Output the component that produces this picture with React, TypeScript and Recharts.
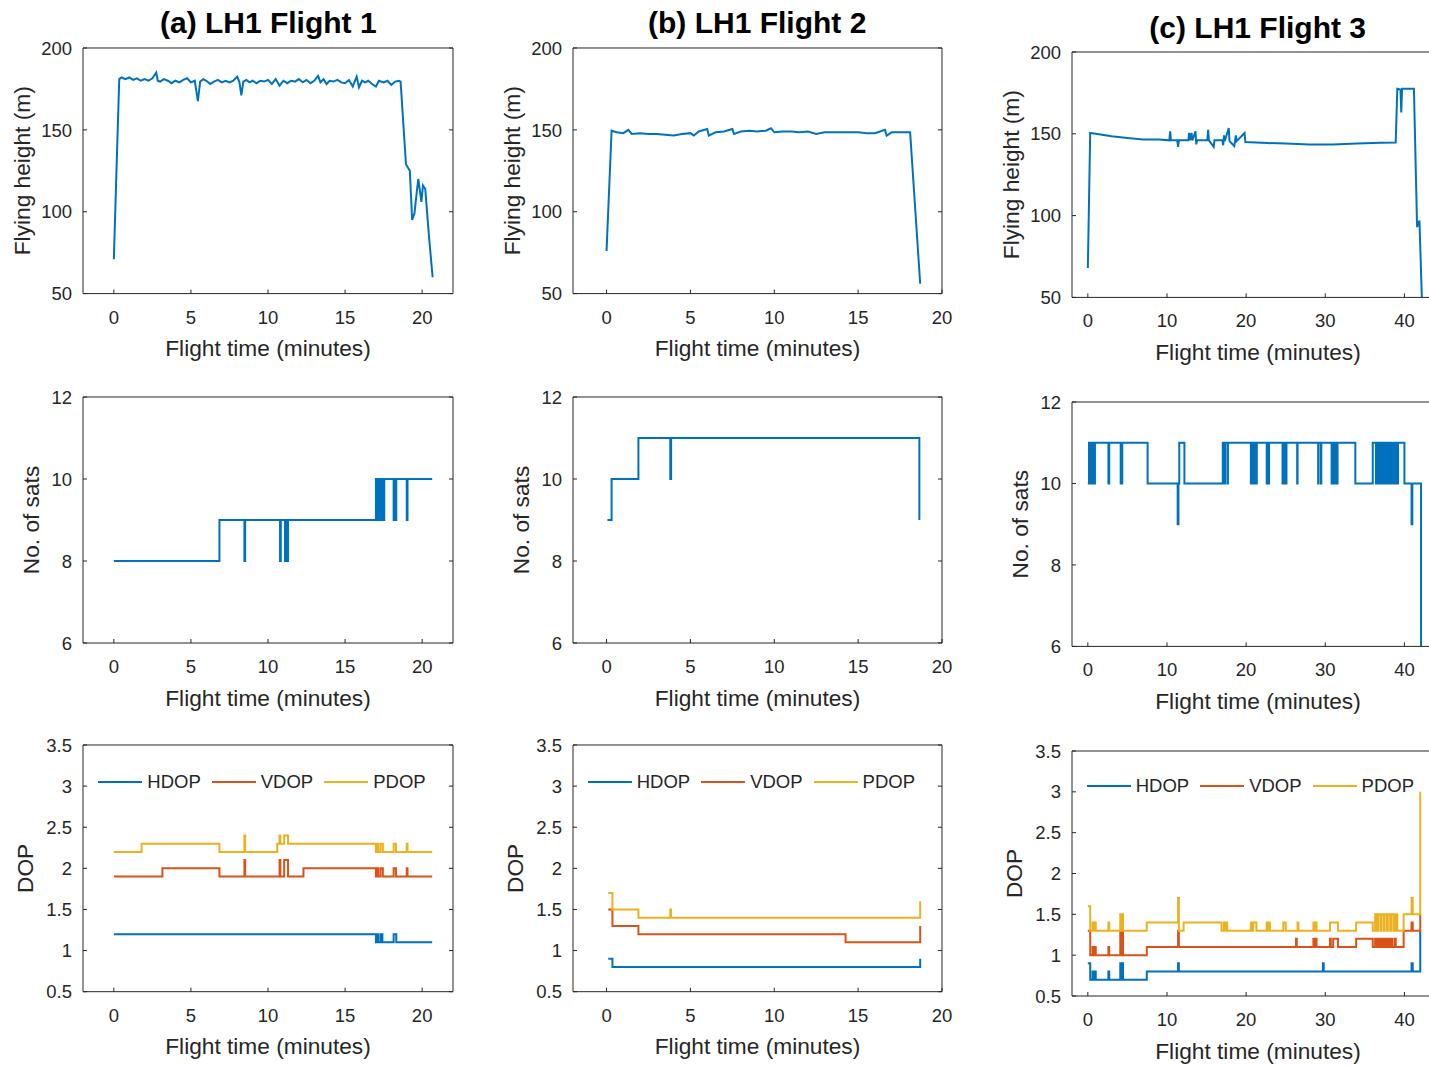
import React from 'react';
import { LineChart, Line, XAxis, YAxis, Legend, Label } from 'recharts';

const BLUE = '#0072BD';
const ORANGE = '#D95319';
const YELLOW = '#EDB120';
const INK = '#262626';
const FONT = '"Liberation Sans", Arial, Helvetica, sans-serif';

type Pt = [number, number];

// ---------- text ----------
const titles = ['(a) LH1 Flight 1', '(b) LH1 Flight 2', '(c) LH1 Flight 3'];
const xLabelText = 'Flight time (minutes)';
const heightLabel = 'Flying height (m)';
const satsLabel = 'No. of sats';
const dopLabel = 'DOP';
const dopNames = ['HDOP', 'VDOP', 'PDOP'];

// ---------- ticks ----------
const xTicks20 = [0, 5, 10, 15, 20];
const xTicks40 = [0, 10, 20, 30, 40];
const heightTicks = [50, 100, 150, 200];
const satsTicks = [6, 8, 10, 12];
const dopTicks = [0.5, 1, 1.5, 2, 2.5, 3, 3.5];

// ---------- Flight 1 ----------
const f1Height: Pt[] = [
  [0, 71], [0.35, 181], [0.5, 182], [0.75, 181], [1.0, 182], [1.25, 180.5], [1.5, 181.5], [1.75, 180],
  [2.0, 181], [2.25, 180], [2.5, 181.5], [2.75, 185], [2.85, 180], [3.0, 179.5], [3.25, 181], [3.5, 180],
  [3.75, 178.5], [4.0, 180], [4.25, 179], [4.5, 180.5], [4.75, 181.5], [5.0, 179], [5.25, 180], [5.45, 167.5],
  [5.6, 179.5], [5.8, 181], [6.0, 180], [6.25, 178], [6.5, 179.5], [6.75, 180.5], [7.0, 179], [7.25, 180],
  [7.5, 179], [7.75, 180], [8.0, 182.5], [8.15, 179], [8.27, 171], [8.4, 179.5], [8.6, 180.5], [8.8, 179],
  [9.0, 180], [9.25, 178.5], [9.5, 180], [9.75, 179.5], [10.0, 180.5], [10.25, 178], [10.5, 181], [10.75, 177],
  [11.0, 180], [11.25, 178.5], [11.5, 180], [11.75, 179.5], [12.0, 181], [12.25, 179], [12.5, 180.5], [12.75, 178.5],
  [13.0, 180], [13.25, 183], [13.4, 179], [13.6, 181], [13.8, 178], [14.0, 180], [14.25, 179.5], [14.5, 180.5],
  [14.75, 179], [15.0, 178.5], [15.25, 180.5], [15.5, 176.5], [15.75, 182.5], [15.9, 176], [16.1, 180], [16.3, 179],
  [16.5, 180], [16.75, 178], [17.0, 176.5], [17.2, 180], [17.5, 179], [17.75, 180], [18.0, 177.5], [18.25, 179.5],
  [18.5, 180], [18.6, 179.5], [18.95, 129], [19.2, 125], [19.35, 95], [19.5, 99], [19.65, 112], [19.75, 120],
  [19.95, 106], [20.05, 116], [20.2, 114], [20.45, 84], [20.68, 60],
];
const f1Sats: Pt[] = [
  [0, 8], [6.85, 9], [8.47, 8], [8.52, 9], [10.78, 8], [10.83, 9], [11.1, 8], [11.15, 9], [11.25, 8], [11.3, 9],
  [17.0, 10], [17.05, 9], [17.1, 10], [17.22, 9], [17.26, 10], [17.36, 9], [17.4, 10], [17.5, 9], [17.54, 10],
  [18.15, 9], [18.2, 10], [18.28, 9], [18.32, 10], [19.0, 9], [19.05, 10], [20.65, 10],
];
const f1Hdop: Pt[] = [
  [0, 1.2], [17.0, 1.1], [17.1, 1.2], [17.15, 1.1], [17.3, 1.2], [17.42, 1.1], [18.15, 1.2], [18.32, 1.1], [20.65, 1.1],
];
const f1Vdop: Pt[] = [
  [0, 1.9], [3.15, 2.0], [6.85, 1.9], [8.47, 2.1], [8.52, 1.9], [10.75, 2.1], [10.8, 1.9], [11.05, 2.1], [11.3, 1.9],
  [12.3, 2.0], [17.0, 1.9], [17.1, 2.0], [17.15, 1.9], [17.3, 2.0], [17.45, 1.9], [18.15, 2.0], [18.3, 1.9],
  [19.0, 2.0], [19.05, 1.9], [20.65, 1.9],
];
const f1Pdop: Pt[] = [
  [0, 2.2], [1.8, 2.3], [6.85, 2.2], [8.47, 2.4], [8.52, 2.2], [10.6, 2.3], [10.75, 2.4], [10.8, 2.3], [11.05, 2.4],
  [11.3, 2.3], [17.0, 2.2], [17.1, 2.3], [17.15, 2.2], [17.3, 2.3], [17.45, 2.2], [18.15, 2.3], [18.3, 2.2],
  [19.0, 2.3], [19.05, 2.2], [20.65, 2.2],
];

// ---------- Flight 2 ----------
const f2Height: Pt[] = [
  [0, 76], [0.3, 149.5], [0.6, 148.5], [1.0, 148], [1.3, 150], [1.5, 147.5], [2.0, 148], [2.5, 147.5], [3.0, 147.5],
  [3.5, 147], [4.0, 146.5], [4.5, 147.5], [5.0, 148], [5.2, 146.5], [5.5, 149], [6.0, 150.5], [6.1, 146.5],
  [6.5, 148.5], [7.0, 149], [7.5, 150.5], [7.6, 147.5], [8.0, 149], [8.5, 149.5], [9.0, 149], [9.5, 149.5],
  [9.8, 151], [10.0, 148.5], [10.5, 149], [11.0, 149], [11.5, 148.5], [12.0, 149], [12.5, 147.5], [13.0, 148.5],
  [13.5, 148.5], [14.0, 148.5], [15.0, 148.5], [15.5, 148], [16.0, 148], [16.6, 150], [16.7, 146.5], [17.0, 148.5],
  [17.5, 148.5], [18.1, 148.5], [18.7, 56],
];
const f2Sats: Pt[] = [[0.05, 9], [0.3, 10], [1.9, 11], [3.8, 10], [3.85, 11], [18.65, 9]];
const f2Hdop: Pt[] = [[0.1, 0.9], [0.35, 0.8], [18.7, 0.9]];
const f2Vdop: Pt[] = [[0.1, 1.5], [0.35, 1.3], [1.9, 1.2], [14.25, 1.1], [18.7, 1.3]];
const f2Pdop: Pt[] = [[0.1, 1.7], [0.35, 1.5], [1.9, 1.4], [3.8, 1.5], [3.85, 1.4], [18.7, 1.6]];

// ---------- Flight 3 ----------
const f3Height: Pt[] = [
  [0, 68], [0.3, 150.5], [1, 150], [3, 148.5], [5, 147.5], [7, 146.5], [9, 146.5], [10.3, 146], [10.4, 151.5],
  [10.5, 146], [11.3, 146], [11.4, 142], [11.5, 146], [12.7, 146], [12.8, 150.5], [12.9, 146], [13.1, 150.5],
  [13.2, 146], [13.6, 151.5], [13.7, 143.5], [13.8, 146], [15.1, 146], [15.2, 152.5], [15.3, 146], [15.9, 142],
  [16.0, 146], [17.0, 146], [17.1, 143], [17.2, 149], [17.3, 145.5], [17.8, 153.5], [17.9, 145.5], [18.5, 142.5],
  [18.6, 145.5], [18.7, 149], [18.8, 145.5], [19.8, 150.5], [19.9, 145], [22, 144.5], [25, 144], [28, 143.5],
  [31, 143.5], [34, 144], [37, 144.5], [38.9, 144.7], [39.1, 177.5], [39.5, 177], [39.6, 163], [39.7, 177.5],
  [41.2, 177.5], [41.6, 93], [41.9, 97], [42.2, 50],
];
const f3Sats: Pt[] = [
  [0, 10], [0.15, 11], [0.2, 10], [0.35, 11], [0.4, 10], [0.55, 11], [0.6, 10], [0.75, 11], [0.8, 10], [0.9, 11],
  [2.6, 10], [2.7, 11], [4.15, 10], [4.35, 11], [7.55, 10], [11.35, 9], [11.45, 10], [11.55, 11], [12.2, 10],
  [17.05, 11], [17.3, 10], [17.35, 11], [17.65, 10], [17.7, 11], [20.6, 10], [20.65, 11], [20.75, 10], [20.8, 11],
  [20.9, 10], [20.95, 11], [21.1, 10], [21.15, 11], [21.3, 10], [21.35, 11], [22.6, 10], [22.65, 11], [22.85, 10],
  [22.9, 11], [24.6, 10], [24.65, 11], [24.9, 10], [25.1, 11], [26.45, 10], [26.5, 11], [29.1, 10], [29.15, 11],
  [29.45, 10], [29.5, 11], [30.8, 10], [30.85, 11], [31.0, 10], [31.05, 11], [31.2, 10], [31.3, 11], [31.5, 10],
  [31.55, 11], [33.8, 10], [36.0, 11], [36.4, 10], [36.45, 11], [36.6, 10], [36.7, 11], [36.9, 10], [37.0, 11],
  [37.1, 10], [37.2, 11], [37.3, 10], [37.4, 11], [37.5, 10], [37.6, 11], [37.7, 10], [37.8, 11], [37.9, 10],
  [38.0, 11], [38.1, 10], [38.2, 11], [38.3, 10], [38.4, 11], [38.5, 10], [38.6, 11], [38.8, 10], [38.9, 11],
  [39.1, 10], [39.2, 11], [40.0, 10], [40.9, 9], [41.0, 10], [42.1, 6],
];
const f3Hdop: Pt[] = [
  [0, 0.9], [0.3, 0.7], [0.6, 0.8], [0.7, 0.7], [0.85, 0.8], [1.0, 0.7], [2.6, 0.8], [2.7, 0.7], [4.1, 0.9],
  [4.2, 0.7], [4.35, 0.9], [4.45, 0.7], [7.45, 0.8], [11.4, 0.9], [11.5, 0.8], [29.7, 0.9], [29.8, 0.8],
  [40.9, 0.9], [41.05, 0.8], [42.0, 1.3],
];
const f3Vdop: Pt[] = [
  [0, 1.3], [0.3, 1.0], [0.6, 1.1], [0.7, 1.0], [0.85, 1.1], [1.0, 1.0], [2.6, 1.1], [2.7, 1.0], [4.1, 1.3],
  [4.2, 1.0], [4.35, 1.3], [4.45, 1.0], [7.45, 1.1], [11.4, 1.3], [11.5, 1.1], [26.3, 1.2], [26.4, 1.1],
  [28.5, 1.2], [28.6, 1.1], [28.8, 1.2], [28.9, 1.1], [30.6, 1.2], [30.7, 1.1], [31.0, 1.2], [31.6, 1.1],
  [33.9, 1.2], [36.0, 1.1], [36.3, 1.2], [36.45, 1.1], [36.6, 1.2], [36.8, 1.1], [37.0, 1.2], [37.15, 1.1],
  [37.3, 1.2], [37.5, 1.1], [37.7, 1.2], [37.85, 1.1], [38.0, 1.2], [38.15, 1.1], [38.4, 1.2], [38.5, 1.1],
  [38.8, 1.2], [38.9, 1.1], [39.9, 1.3], [40.9, 1.4], [41.05, 1.3], [42.0, 1.5],
];
const f3Pdop: Pt[] = [
  [0, 1.6], [0.3, 1.3], [0.6, 1.4], [0.7, 1.3], [0.85, 1.4], [1.0, 1.3], [2.6, 1.4], [2.7, 1.3], [4.1, 1.5],
  [4.2, 1.3], [4.35, 1.5], [4.45, 1.3], [7.45, 1.4], [11.4, 1.7], [11.5, 1.3], [12.1, 1.4], [16.9, 1.3],
  [17.2, 1.4], [17.3, 1.3], [17.5, 1.4], [17.6, 1.3], [20.6, 1.4], [20.7, 1.3], [20.9, 1.4], [21.3, 1.3],
  [22.6, 1.4], [22.7, 1.3], [22.9, 1.4], [23.0, 1.3], [24.7, 1.4], [25.0, 1.3], [26.5, 1.4], [26.6, 1.3],
  [28.5, 1.4], [28.6, 1.3], [28.8, 1.4], [28.9, 1.3], [30.6, 1.4], [31.6, 1.3], [33.9, 1.4], [36.0, 1.3],
  [36.3, 1.5], [36.4, 1.3], [36.5, 1.5], [36.6, 1.3], [36.7, 1.5], [37.0, 1.3], [37.1, 1.5], [37.4, 1.3],
  [37.5, 1.5], [37.8, 1.3], [37.9, 1.5], [38.2, 1.3], [38.3, 1.5], [38.6, 1.3], [38.7, 1.5], [38.8, 1.3],
  [39.0, 1.5], [39.1, 1.3], [39.9, 1.5], [40.9, 1.7], [41.05, 1.5], [42.0, 3.0],
];

const rows = (p: Pt[]) => p.map(([t, v]) => ({ t, v }));

// ---------- rendering helpers ----------
const ML = 100, MT = 12, MR = 24, MB = 80;
const TICK_FS = 18.5;
const LABEL_FS = 22.7;

const BottomTick = (p: any) => (
  <g>
    <line x1={p.x} y1={p.y} x2={p.x} y2={p.y - 4} stroke={INK} strokeWidth={1} />
    <text x={p.x} y={p.y + 30} textAnchor="middle" fill={INK} fontSize={TICK_FS} fontFamily={FONT}>
      {p.payload.value}
    </text>
  </g>
);
const TopTick = (p: any) => <line x1={p.x} y1={p.y} x2={p.x} y2={p.y + 4} stroke={INK} strokeWidth={1} />;
const LeftTick = (p: any) => (
  <g>
    <line x1={p.x} y1={p.y} x2={p.x + 4} y2={p.y} stroke={INK} strokeWidth={1} />
    <text x={p.x - 11} y={p.y} dy="0.36em" textAnchor="end" fill={INK} fontSize={TICK_FS} fontFamily={FONT}>
      {p.payload.value}
    </text>
  </g>
);
const RightTick = (p: any) => <line x1={p.x} y1={p.y} x2={p.x - 4} y2={p.y} stroke={INK} strokeWidth={1} />;

interface Series { name: string; data: Pt[]; color: string; step: boolean }
interface PanelProps {
  left: number; top: number; w: number; h: number;
  xDomain: [number, number]; xTicks: number[];
  yDomain: [number, number]; yTicks: number[];
  yLabel: string; yLabelOff: number;
  series: Series[]; legend?: boolean; legendDy?: number;
}

const Panel = (pp: PanelProps) => {
  const { left, top, w, h, xDomain, xTicks, yDomain, yTicks, yLabel, yLabelOff, series, legend, legendDy = 36 } = pp;
  const width = ML + w + MR;
  const height = MT + h + MB;
  const renderLegend = () => (
    <div style={{ display: 'flex', alignItems: 'center', fontFamily: FONT, fontSize: TICK_FS, color: INK, whiteSpace: 'nowrap', lineHeight: '21px' }}>
      {series.map((s, i) => (
        <div key={i} style={{ display: 'flex', alignItems: 'center', marginRight: 11 }}>
          <svg width={44} height={4} style={{ display: 'block' }}>
            <line x1={0} y1={2} x2={44} y2={2} stroke={s.color} strokeWidth={2} />
          </svg>
          <span style={{ marginLeft: 5 }}>{s.name}</span>
        </div>
      ))}
    </div>
  );
  return (
    <div style={{ position: 'absolute', left: left - ML, top: top - MT, width, height }}>
      <LineChart width={width} height={height} margin={{ left: ML - 1, top: MT - 1, right: MR - 1, bottom: MB - 1 }}>
        <XAxis type="number" dataKey="t" domain={xDomain} ticks={xTicks} allowDataOverflow interval={0}
          height={1} tickSize={0} tickMargin={0} tickLine={false} axisLine={{ stroke: INK, strokeWidth: 1 }}
          tick={(p: any) => <BottomTick {...p} />}>
          <Label content={() => (
            <text x={ML + w / 2} y={MT + h + 62.5} textAnchor="middle" fill={INK} fontSize={LABEL_FS} fontFamily={FONT}>
              {xLabelText}
            </text>
          )} />
        </XAxis>
        <XAxis xAxisId="top" orientation="top" type="number" domain={xDomain} ticks={xTicks} allowDataOverflow interval={0}
          height={1} tickSize={0} tickMargin={0} tickLine={false} axisLine={{ stroke: INK, strokeWidth: 1 }}
          tick={(p: any) => <TopTick {...p} />} />
        <YAxis type="number" domain={yDomain} ticks={yTicks} allowDataOverflow interval={0}
          width={1} tickSize={0} tickMargin={0} tickLine={false} axisLine={{ stroke: INK, strokeWidth: 1 }}
          tick={(p: any) => <LeftTick {...p} />}>
          <Label content={() => {
            const cx = ML - yLabelOff;
            const cy = MT + h / 2;
            return (
              <text x={cx} y={cy} dy="0.36em" transform={`rotate(-90, ${cx}, ${cy})`} textAnchor="middle"
                fill={INK} fontSize={LABEL_FS} fontFamily={FONT}>
                {yLabel}
              </text>
            );
          }} />
        </YAxis>
        <YAxis yAxisId="right" orientation="right" type="number" domain={yDomain} ticks={yTicks} allowDataOverflow interval={0}
          width={1} tickSize={0} tickMargin={0} tickLine={false} axisLine={{ stroke: INK, strokeWidth: 1 }}
          tick={(p: any) => <RightTick {...p} />} />
        {series.map((s) => (
          <Line key={s.name} name={s.name} data={rows(s.data)} dataKey="v" type={s.step ? 'stepAfter' : 'linear'}
            stroke={s.color} strokeWidth={2} dot={false} activeDot={false} isAnimationActive={false} />
        ))}
        {legend && (
          <Legend layout="horizontal" verticalAlign="middle" align="center" content={renderLegend}
            wrapperStyle={{ position: 'absolute', left: ML + 15, top: MT + legendDy - 10.5, width: 'auto', height: 'auto' }} />
        )}
      </LineChart>
    </div>
  );
};

const cols = [
  { left: 83.3, w: 370, xDomain: [-2, 22] as [number, number], xTicks: xTicks20, tops: [47.7, 396.5, 745], hs: [245.6, 246, 246.7], titleY: 33.3 },
  { left: 572.7, w: 369, xDomain: [-2, 20] as [number, number], xTicks: xTicks20, tops: [47.7, 396.5, 745], hs: [245.6, 246, 246.7], titleY: 33.3 },
  { left: 1071.7, w: 372, xDomain: [-2, 45] as [number, number], xTicks: xTicks40, tops: [52.3, 402.3, 750.7], hs: [245.4, 244.4, 245], titleY: 37.5 },
];

const flights = [
  { height: f1Height, sats: f1Sats, dop: [f1Hdop, f1Vdop, f1Pdop] },
  { height: f2Height, sats: f2Sats, dop: [f2Hdop, f2Vdop, f2Pdop] },
  { height: f3Height, sats: f3Sats, dop: [f3Hdop, f3Vdop, f3Pdop] },
];
const dopColors = [BLUE, ORANGE, YELLOW];

export default function App() {
  return (
    <div style={{ position: 'absolute', left: 0, top: 0, width: 1429, height: 1066, overflow: 'hidden', background: '#ffffff' }}>
      <svg width={1429} height={60} style={{ position: 'absolute', left: 0, top: 0 }}>
        {cols.map((c, i) => (
          <text key={i} x={c.left + c.w / 2} y={c.titleY} textAnchor="middle" fill="#000"
            fontSize={30} fontWeight="bold" fontFamily={FONT}>
            {titles[i]}
          </text>
        ))}
      </svg>
      {cols.map((c, i) => (
        <React.Fragment key={i}>
          <Panel left={c.left} top={c.tops[0]} w={c.w} h={c.hs[0]} xDomain={c.xDomain} xTicks={c.xTicks}
            yDomain={[50, 200]} yTicks={heightTicks} yLabel={heightLabel} yLabelOff={61}
            series={[{ name: 'height', data: flights[i].height, color: BLUE, step: false }]} />
          <Panel left={c.left} top={c.tops[1]} w={c.w} h={c.hs[1]} xDomain={c.xDomain} xTicks={c.xTicks}
            yDomain={[6, 12]} yTicks={satsTicks} yLabel={satsLabel} yLabelOff={52}
            series={[{ name: 'sats', data: flights[i].sats, color: BLUE, step: true }]} />
          <Panel left={c.left} top={c.tops[2]} w={c.w} h={c.hs[2]} xDomain={c.xDomain} xTicks={c.xTicks}
            yDomain={[0.5, 3.5]} yTicks={dopTicks} yLabel={dopLabel} yLabelOff={58} legend legendDy={i === 2 ? 35.3 : 36.7}
            series={dopNames.map((n, k) => ({ name: n, data: flights[i].dop[k], color: dopColors[k], step: true }))} />
        </React.Fragment>
      ))}
    </div>
  );
}
